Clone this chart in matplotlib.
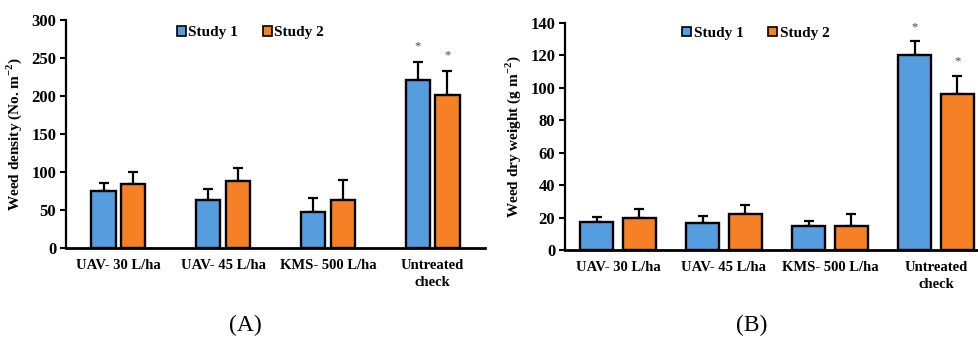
import numpy as np
import matplotlib
matplotlib.use("Agg")
import matplotlib.pyplot as plt
from matplotlib.patches import Patch

categories = ["UAV- 30 L/ha", "UAV- 45 L/ha", "KMS- 500 L/ha", "Untreated\ncheck"]

# Panel A: weed density (No. m-2)
density_s1 = [75, 63, 47, 221]
density_s1_err = [11, 15, 19, 24]
density_s2 = [84, 88, 63, 201]
density_s2_err = [16, 17, 27, 32]

# Panel B: weed dry weight (g m-2)
dry_s1 = [17, 16.5, 15, 120.5]
dry_s1_err = [3.5, 4.5, 3, 8.5]
dry_s2 = [19.5, 22, 14.5, 96.5]
dry_s2_err = [6, 6, 7.5, 11]

# significance marks (only untreated check)
stars = ["", "", "", "*"]

blue = "#559DDE"
orange = "#F58025"

plt.rcParams["font.family"] = ["Liberation Serif", "DejaVu Serif"]
plt.rcParams["font.weight"] = "bold"


def draw_panel(ax, s1, e1, s2, e2, width, offset, ylim, yticks, ylabel, star_pts):
    x = np.arange(len(categories))
    for vals, errs, off, col in [(s1, e1, -offset, blue), (s2, e2, offset, orange)]:
        ax.bar(x + off, vals, width, color=col, edgecolor="black", linewidth=1.7, zorder=3)
        ax.errorbar(x + off, vals, yerr=[np.zeros(len(errs)), errs], fmt="none",
                    ecolor="black", elinewidth=1.6, capsize=3.5, capthick=1.6, zorder=2)
        for xi, v, e, s in zip(x + off, vals, errs, stars):
            if s:
                ax.annotate(s, (xi, v + e), xytext=(0, star_pts), textcoords="offset points",
                            ha="center", va="center", fontsize=9, color="#444444",
                            fontweight="normal")
    ax.set_xlim(-0.5, 3.5)
    ax.set_ylim(*ylim)
    ax.set_yticks(yticks)
    ax.set_xticks(x)
    ax.set_xticklabels(categories, fontsize=10.5, fontweight="bold", linespacing=1.35)
    ax.tick_params(axis="x", length=0, pad=8)
    ax.tick_params(axis="y", direction="out", length=4, width=1.5, labelsize=12, pad=3)
    for lab in ax.get_yticklabels():
        lab.set_fontweight("bold")
    for sp in ["top", "right"]:
        ax.spines[sp].set_visible(False)
    ax.spines["left"].set_linewidth(1.6)
    ax.spines["bottom"].set_linewidth(2)
    ax.set_ylabel(ylabel, fontsize=11, fontweight="bold", labelpad=5)


fig = plt.figure(figsize=(9.79, 3.38), dpi=100)
axA = fig.add_axes([66 / 979, 90 / 338, 419 / 979, 228 / 338])
axB = fig.add_axes([565 / 979, 88 / 338, 424 / 979, 227 / 338])

draw_panel(axA, density_s1, density_s1_err, density_s2, density_s2_err,
           0.23, 0.142, (0, 300), range(0, 301, 50),
           "Weed density (No. m$^{\\mathregular{-2}}$)", 11)
draw_panel(axB, dry_s1, dry_s1_err, dry_s2, dry_s2_err,
           0.31, 0.2, (0, 140), range(0, 141, 20),
           "Weed dry weight (g m$^{\\mathregular{-2}}$)", 10)

handles = [Patch(facecolor=blue, edgecolor="black", linewidth=1.2, label="Study 1"),
           Patch(facecolor=orange, edgecolor="black", linewidth=1.2, label="Study 2")]
for ax, lx, ly in [(axA, 0.44, 0.945), (axB, 0.45, 0.955)]:
    ax.legend(handles=handles, loc="center", bbox_to_anchor=(lx, ly), ncol=2, frameon=False,
              handlelength=0.6, handleheight=0.6, handletextpad=0.15, columnspacing=1.6,
              prop={"weight": "bold", "size": 11})

fig.text(245 / 979, 1 - 325 / 338, "(A)", ha="center", va="center", fontsize=17, fontweight="normal")
fig.text(752 / 979, 1 - 325 / 338, "(B)", ha="center", va="center", fontsize=17, fontweight="normal")

fig.savefig("out.png", dpi=100)
